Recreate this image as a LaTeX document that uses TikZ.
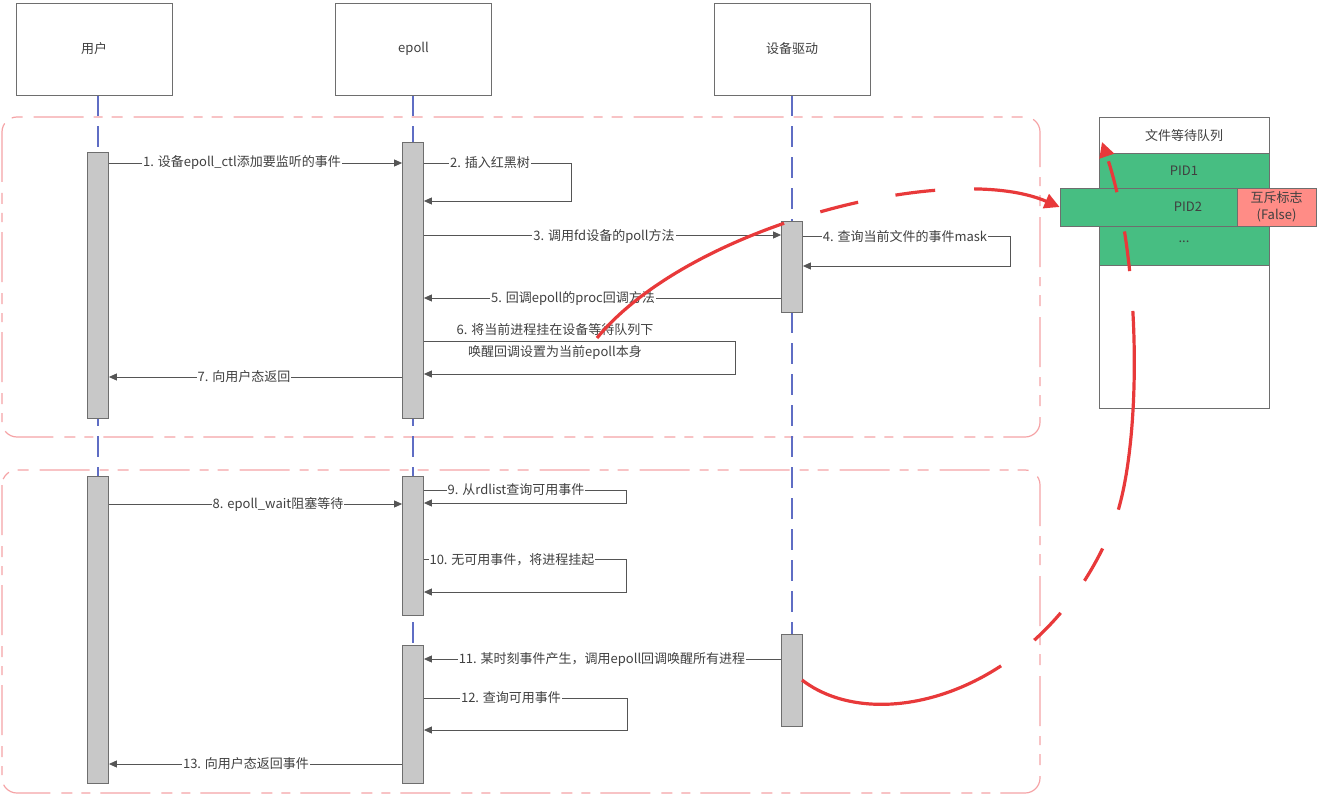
\documentclass[tikz,border=0pt]{standalone}
\usepackage{fontspec}
\setmainfont{Noto Sans CJK SC}
\usetikzlibrary{arrows.meta,backgrounds}
\definecolor{lifeblue}{HTML}{5F6DC4}
\definecolor{framepink}{HTML}{F5A3A6}
\definecolor{barfill}{HTML}{C8C8C8}
\definecolor{barline}{HTML}{6E6E6E}
\definecolor{msgc}{HTML}{555555}
\definecolor{txtc}{HTML}{404040}
\definecolor{qgreen}{HTML}{47BE82}
\definecolor{qpink}{HTML}{FF8C86}
\definecolor{redc}{HTML}{E8393A}
\begin{document}
\begin{tikzpicture}[x=1pt,y=-1pt,
  every node/.style={font=\fontsize{13pt}{15pt}\selectfont, text=txtc},
  head/.style={draw=barline, line width=0.8pt, fill=white, minimum width=156pt, minimum height=92pt, inner sep=0pt},
  bar/.style={draw=barline, line width=0.8pt, fill=barfill, minimum width=21pt, inner sep=0pt},
  life/.style={draw=lifeblue, line width=1.5pt, dash pattern=on 21pt off 10pt},
  frame/.style={draw=framepink, line width=1.2pt, rounded corners=15pt, dash pattern=on 50pt off 11pt on 11pt off 9pt on 9pt off 10pt},
  msg/.style={draw=msgc, line width=0.9pt, -{Triangle[length=8pt,width=7pt]}},
  lbl/.style={fill=white, inner sep=1pt},
  plain/.style={inner sep=1pt},
  qbox/.style={draw=barline, line width=0.8pt, inner sep=0pt},
  redcurve/.style={draw=redc, line width=3.2pt, -{Triangle[length=15pt,width=15pt]}}
]
\useasboundingbox (0,0) rectangle (1338,805);

% headers
\node[head] (hu) at (94,49) {用户};
\node[head] (he) at (413.5,49) {epoll};
\node[head] (hd) at (792,49) {设备驱动};

% activation bars
\node[bar, minimum height=266pt] (u1) at (98,285) {};
\node[bar, minimum height=276pt] (e1) at (413,280) {};
\node[bar, minimum height=91pt] (d1) at (792,266.5) {};
\node[bar, minimum height=307pt] (u2) at (98,629.5) {};
\node[bar, minimum height=139pt] (e2) at (413,545.5) {};
\node[bar, minimum height=138pt] (e3) at (413,714) {};
\node[bar, minimum height=92pt] (d2) at (792,680) {};

\begin{scope}[on background layer]
  \draw[frame] (2,117) rectangle (1040,437);
  \draw[frame] (2,470) rectangle (1040,793);
  \draw[life] (u1.north |- hu.south) -- (u2.north);
  \draw[life] (e1.north |- he.south) -- (e3.north);
  \draw[life] (d1.north |- hd.south) -- (d2.north);
\end{scope}

% messages, block 1
\draw[msg] (u1.east |- 0,163) -- (e1.west |- 0,163);
\node[lbl] (l1) at (242,163) {1. 设备epoll\_ctl添加要监听的事件};
\draw[msg] (e1.east |- 0,163) -- (571,163) |- (e1.east |- 0,201);
\node[lbl] (l2) at (490,163) {2. 插入红黑树};
\draw[msg] (e1.east |- 0,235) -- (d1.west |- 0,235);
\node[lbl] (l3) at (604,236) {3. 调用fd设备的poll方法};
\draw[msg] (d1.east |- 0,236) -- (1010,236) |- (d1.east |- 0,266);
\node[lbl] (l4) at (905,237) {4. 查询当前文件的事件mask};
\draw[msg] (d1.west |- 0,298) -- (e1.east |- 0,298);
\node[lbl] (l5) at (573,298) {5. 回调epoll的proc回调方法};
\draw[msg] (e1.east |- 0,341) -- (735,341) |- (e1.east |- 0,374);
\node[plain] (l6a) at (555,330) {6. 将当前进程挂在设备等待队列下};
\node[plain] (l6b) at (555,352) {唤醒回调设置为当前epoll本身};
\draw[msg] (e1.west |- 0,377) -- (u1.east |- 0,377);
\node[lbl] (l7) at (244,377) {7. 向用户态返回};

% messages, block 2
\draw[msg] (u2.east |- 0,504) -- (e2.west |- 0,504);
\node[lbl] (l8) at (278,504) {8. epoll\_wait阻塞等待};
\draw[msg] (e2.east |- 0,490) -- (626,490) |- (e2.east |- 0,503);
\node[lbl] (l9) at (516,490) {9. 从rdlist查询可用事件};
\draw[msg] (e2.east |- 0,559) -- (626,559) |- (e2.east |- 0,592);
\node[lbl] (l10) at (512,560) {10. 无可用事件，将进程挂起};
\draw[msg] (d2.west |- 0,659) -- (e3.east |- 0,659);
\node[lbl] (l11) at (602,659) {11. 某时刻事件产生，调用epoll回调唤醒所有进程};
\draw[msg] (e3.east |- 0,698) -- (627,698) |- (e3.east |- 0,730);
\node[lbl] (l12) at (511,698) {12. 查询可用事件};
\draw[msg] (e3.west |- 0,764) -- (u2.east |- 0,764);
\node[lbl] (l13) at (246,764) {13. 向用户态返回事件};

% file wait queue
\node[qbox, fill=white, minimum width=170pt, minimum height=291pt] (q) at (1184,262.5) {};
\node[plain] (qt) at (1184,136) {文件等待队列};
\node[qbox, fill=qgreen, minimum width=170pt, minimum height=35pt] (p1) at (1184,170.5) {PID1};
\node[qbox, fill=qgreen, minimum width=170pt, minimum height=39pt] (pd) at (1184,245.5) {};
\node[plain] (pdt) at (1184,242) {...};
\node[qbox, fill=qgreen, minimum width=177pt, minimum height=38pt] (p2) at (1148.5,207) {};
\node[plain] (p2t) at (1188,207) {PID2};
\node[qbox, fill=qpink, minimum width=79pt, minimum height=38pt, align=center, font=\fontsize{13pt}{17pt}\selectfont] (mx) at (1276.5,207) {互斥标志\\(False)};

% red curves
\coordinate (a0) at (597,338);
\coordinate (b0) at (802,680);
\coordinate (bm) at (1115,520);
\coordinate (b1) at (1102,142);
\draw[redcurve, dash pattern=on 222pt off 38pt on 39pt off 38pt on 40pt off 39pt on 300pt]
  (a0) .. controls (690,225) and (950,160) .. (p2.west);
\draw[redcurve, dash pattern=on 212pt off 42pt on 38pt off 40pt on 37pt off 42pt on 200pt off 40pt on 40pt off 40pt on 32pt off 80pt]
  (b0) .. controls (880,740) and (1050,690) .. (bm) .. controls (1142,445) and (1142,260) .. (b1);
\end{tikzpicture}
\end{document}
